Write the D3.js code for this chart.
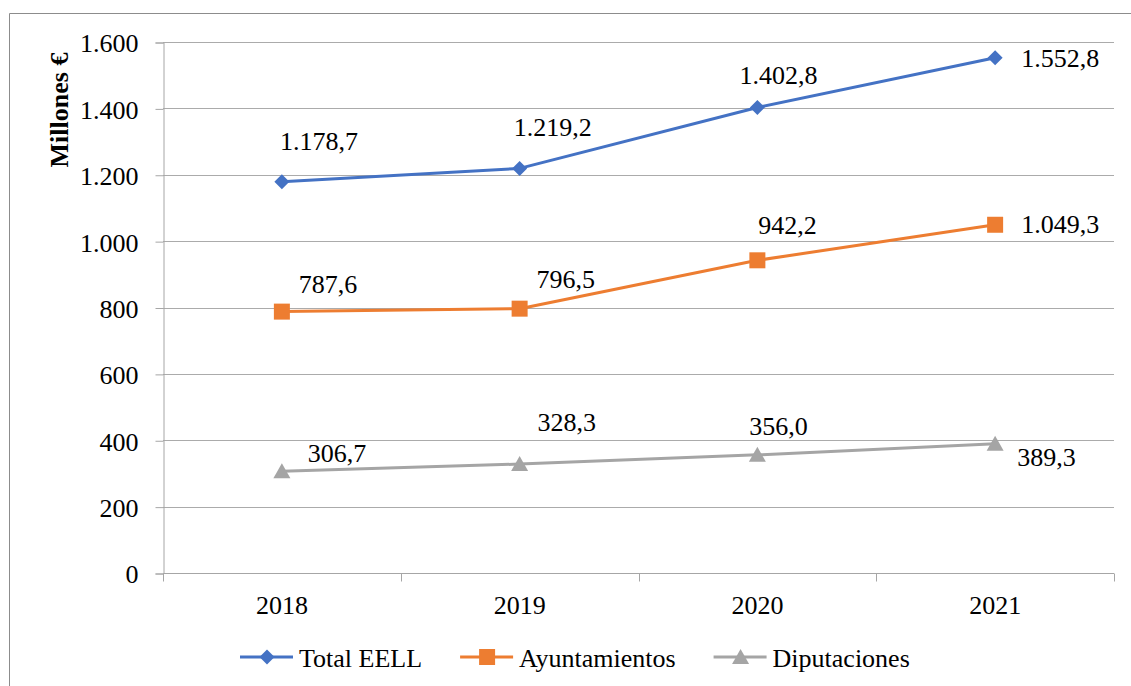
<!DOCTYPE html>
<html>
<head>
<meta charset="utf-8">
<script src="https://cdn.jsdelivr.net/npm/d3@7"></script>
<style>
  body { margin: 0; background: #fff; }
</style>
</head>
<body>
<svg id="chart" width="1131" height="686"></svg>
<script>
// data
const years = ["2018", "2019", "2020", "2021"];
const totalEELL = [1178.7, 1219.2, 1402.8, 1552.8];
const ayuntamientos = [787.6, 796.5, 942.2, 1049.3];
const diputaciones = [306.7, 328.3, 356.0, 389.3];
const seriesNames = ["Total EELL", "Ayuntamientos", "Diputaciones"];
const yTicks = [0, 200, 400, 600, 800, 1000, 1200, 1400, 1600];

// label placement relative to each marker [dx, dy, anchor]
const labelOffsets = [
  [[37, -32, "middle"], [33, -32, "middle"], [21, -23, "middle"], [26, 9, "start"]],
  [[46, -19, "middle"], [46, -21, "middle"], [30, -26, "middle"], [26, 8, "start"]],
  [[55, -9, "middle"], [47, -33, "middle"], [21, -20, "middle"], [22, 22, "start"]]
];

const colors = ["#4472C4", "#ED7D31", "#A5A5A5"];
const FONT = "Liberation Serif";
const fontSize = 26;

// marker shapes (custom symbol types)
const diamond = { draw(ctx) { ctx.moveTo(0, -7.5); ctx.lineTo(7.5, 0); ctx.lineTo(0, 7.5); ctx.lineTo(-7.5, 0); ctx.closePath(); } };
const square = { draw(ctx) { ctx.rect(-8, -8, 16, 16); } };
const triangle = { draw(ctx) { ctx.moveTo(0, -8); ctx.lineTo(8.5, 7); ctx.lineTo(-8.5, 7); ctx.closePath(); } };
const symbols = [diamond, square, triangle];

const margin = { top: 42, right: 17, bottom: 113, left: 163 };
const width = 1131, height = 686;

const svg = d3.select("#chart");

// outer frame (open at right/bottom like the cropped original)
svg.append("path")
  .attr("d", `M9.5,${height} V13.5 H${width}`)
  .attr("fill", "none")
  .attr("stroke", "#8c8c8c")
  .attr("stroke-width", 1);

const x = d3.scaleBand()
  .domain(years)
  .range([margin.left, width - margin.right]);

const y = d3.scaleLinear()
  .domain([0, 1600])
  .range([height - margin.bottom, margin.top]);

const fmt = v => {
  const s = d3.format(",.1f")(v);
  return s.replace(/,/g, "#").replace(".", ",").replace(/#/g, ".");
};
const fmtTick = v => d3.format(",")(v).replace(/,/g, ".");

// gridlines
svg.append("g")
  .selectAll("line")
  .data(yTicks.filter(d => d > 0))
  .join("line")
  .attr("x1", margin.left)
  .attr("x2", width - margin.right)
  .attr("y1", d => Math.round(y(d)) + 0.5)
  .attr("y2", d => Math.round(y(d)) + 0.5)
  .attr("stroke", "#ababab")
  .attr("stroke-width", 1);

// y axis
const yAxis = svg.append("g")
  .attr("transform", `translate(${margin.left + 0.5},0.5)`)
  .call(d3.axisLeft(y).tickValues(yTicks).tickFormat(fmtTick).tickSize(8).tickPadding(17))
  .attr("font-family", FONT)
  .attr("font-size", fontSize);
yAxis.selectAll("text")
  .attr("fill", "#000")
  .attr("dy", "0.36em");
yAxis.selectAll("line, path").attr("stroke", "#a6a6a6");

// x axis with ticks between categories
const xAxisG = svg.append("g")
  .attr("transform", `translate(0,${Math.round(y(0)) + 0.5})`);
xAxisG.append("line")
  .attr("x1", margin.left)
  .attr("x2", width - margin.right)
  .attr("stroke", "#a6a6a6");
const bounds = years.map(d => x(d)).concat([x(years[years.length - 1]) + x.bandwidth()]);
xAxisG.selectAll("line.tick")
  .data(bounds)
  .join("line")
  .attr("class", "tick")
  .attr("x1", d => Math.round(d) + 0.5)
  .attr("x2", d => Math.round(d) + 0.5)
  .attr("y1", 0)
  .attr("y2", 8)
  .attr("stroke", "#a6a6a6");
xAxisG.selectAll("text")
  .data(years)
  .join("text")
  .attr("x", d => x(d) + x.bandwidth() / 2)
  .attr("y", 40)
  .attr("text-anchor", "middle")
  .attr("font-size", fontSize)
  .attr("fill", "#000")
  .text(d => d);

// y axis title
svg.append("text")
  .attr("transform", "translate(68,110) rotate(-90)")
  .attr("text-anchor", "middle")
  .attr("font-size", 26)
  .attr("font-weight", "bold")
  .attr("fill", "#000")
  .text("Millones €");

// series
const allSeries = [totalEELL, ayuntamientos, diputaciones];
const cx = d => x(d) + x.bandwidth() / 2;
const line = d3.line()
  .x((d, i) => cx(years[i]))
  .y(d => y(d));

allSeries.forEach((vals, s) => {
  const g = svg.append("g");
  g.append("path")
    .datum(vals)
    .attr("d", line)
    .attr("fill", "none")
    .attr("stroke", colors[s])
    .attr("stroke-width", 3)
    .attr("stroke-linejoin", "round");

  g.selectAll("path.marker")
    .data(vals)
    .join("path")
    .attr("class", "marker")
    .attr("d", d3.symbol().type(symbols[s]))
    .attr("transform", (d, i) => `translate(${cx(years[i])},${y(d)})`)
    .attr("fill", colors[s]);

  g.selectAll("text")
    .data(vals)
    .join("text")
    .attr("x", (d, i) => cx(years[i]) + labelOffsets[s][i][0])
    .attr("y", (d, i) => y(d) + labelOffsets[s][i][1])
    .attr("text-anchor", (d, i) => labelOffsets[s][i][2])
    .attr("font-size", fontSize)
    .attr("fill", "#000")
    .text(d => fmt(d));
});

// legend
const legend = svg.append("g").attr("transform", "translate(240,657)");
let lx = 0;
seriesNames.forEach((name, s) => {
  const item = legend.append("g").attr("transform", `translate(${lx},0)`);
  item.append("line")
    .attr("x1", 0).attr("x2", 53)
    .attr("stroke", colors[s])
    .attr("stroke-width", 3);
  item.append("path")
    .attr("d", d3.symbol().type(symbols[s]))
    .attr("transform", "translate(27,0)")
    .attr("fill", colors[s]);
  const t = item.append("text")
    .attr("x", 59)
    .attr("y", 10)
    .attr("font-size", fontSize)
    .attr("fill", "#000")
    .style("font-family", FONT)
    .text(name);
  lx += 59 + t.node().getComputedTextLength() + 38;
});

// make sure every text uses the serif face
svg.selectAll("text").style("font-family", FONT);
</script>
</body>
</html>
